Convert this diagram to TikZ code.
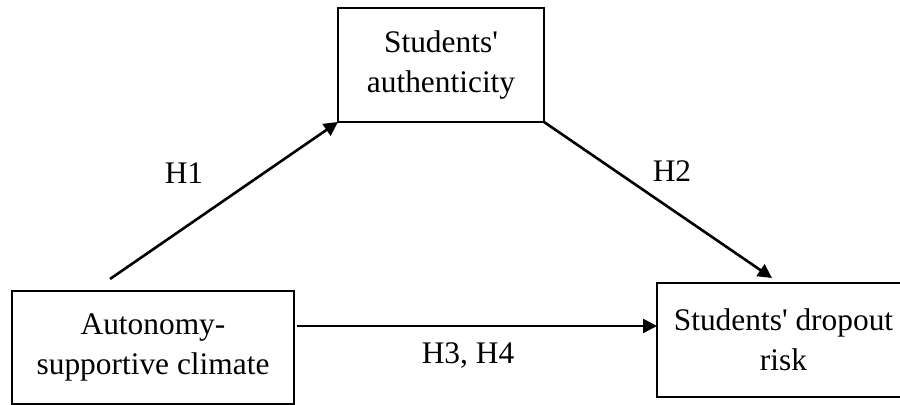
\documentclass[tikz,border=0pt]{standalone}
\usepackage{fontspec}
\setmainfont{Liberation Serif}
\usetikzlibrary{arrows.meta}

\begin{document}
\begin{tikzpicture}[x=0.5pt, y=-0.5pt,
  every node/.style={font=\fontsize{15.7}{20}\selectfont},
  varbox/.style={draw, line width=1pt, align=center, inner sep=0pt, outer sep=0pt},
  path/.style={line width=1.3pt, -{Triangle[length=7pt, width=7pt]}}]
 \clip (0,0) rectangle (900,405);
 \useasboundingbox (0,0) rectangle (900,405);
 % variabili
 \node[varbox, minimum width=103pt, minimum height=57pt] (auth) at (441,65) {Students\textquotesingle\\authenticity};
 \node[varbox, minimum width=141pt, minimum height=56.5pt] (clim) at (153,347.5) {Autonomy-\\supportive climate};
 \node[varbox, minimum width=126.5pt, minimum height=57pt] (drop) at (783.5,340) {Students\textquotesingle{} dropout\\risk};
 % estremi liberi
 \coordinate (h1start) at (110,279);
 \coordinate (h2end) at (772,278);
 \coordinate (h3start) at (297,326);
 % percorsi
 \draw[path] (h1start) -- (auth.south west);
 \draw[path] (auth.south east) -- (h2end);
 \draw[path] (h3start) -- (drop.west |- h3start);
 \node (h1) at (184,173) {H1};
 \node (h2) at (672,171) {H2};
 \node (h34) at (468,356) {H3, H4};
\end{tikzpicture}
\end{document}
